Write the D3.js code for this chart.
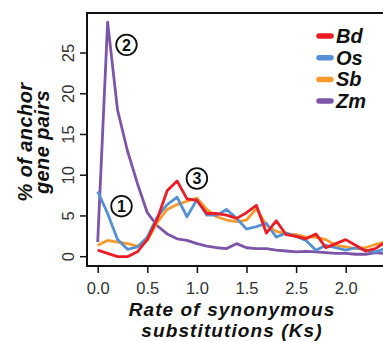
<!DOCTYPE html>
<html><head><meta charset="utf-8">
<script src="https://cdn.jsdelivr.net/npm/d3@7/dist/d3.min.js"></script>
<style>html,body{margin:0;padding:0;background:#fff;overflow:hidden}svg{display:block}</style>
</head><body>
<script>
const ks = [0.0,0.1,0.2,0.3,0.4,0.5,0.6,0.7,0.8,0.9,1.0,1.1,1.2,1.3,1.4,1.5,1.6,1.7,1.8,1.9,2.0,2.1,2.2,2.3,2.4,2.5,2.6,2.7,2.8,2.9];
const bd = [0.8,0.4,0.0,0.0,0.6,2.1,4.6,8.1,9.3,7.1,6.9,5.3,5.3,5.1,4.7,5.4,6.3,2.9,4.4,2.7,2.5,2.2,2.8,1.1,1.6,2.1,1.4,0.7,1.0,1.8];
const os = [8.0,5.3,2.1,0.9,1.2,2.4,4.9,6.4,7.3,4.9,7.0,5.1,5.1,5.8,4.7,3.4,3.7,4.1,2.4,2.9,2.5,2.0,0.8,1.4,1.1,0.8,1.1,0.8,0.6,1.0];
const sb = [1.4,2.0,1.8,1.6,1.3,2.0,4.2,5.8,6.4,6.8,7.2,5.8,4.9,4.5,4.3,4.5,5.9,3.9,3.1,2.8,2.7,2.4,2.4,2.1,1.4,1.2,1.0,1.1,1.5,1.8];
const zm = [1.8,28.8,18.0,13.0,9.0,5.4,3.8,2.8,2.2,2.0,1.6,1.3,1.1,1.0,1.6,1.1,1.0,1.0,0.8,0.7,0.6,0.65,0.6,0.5,0.4,0.4,0.3,0.3,0.5,0.4];
const seriesNames = ["Bd","Os","Sb","Zm"];
const seriesColors = ["#ec1c24","#5591d2","#f89b2c","#7d55a8"];
const xTicks = [0,0.5,1.0,1.5,2.0,2.5];
const xTickLabels = ["0.0","0.5","1.0","1.5","2.5","2.0"];
const yTicks = [0,5,10,15,20,25];
const marks = [{label:"1",x:0.24,y:6.2},{label:"2",x:0.29,y:26.0},{label:"3",x:1.0,y:9.6}];

const W=383,H=341;
const svg=d3.select("body").append("svg").attr("width",W).attr("height",H);
const x=d3.scaleLinear().domain([0,3]).range([97.7,395.3]);
const y=d3.scaleLinear().domain([0,25]).range([256.7,53]);
const font="'Liberation Sans', Arial, sans-serif";

// box
svg.append("path").attr("d","M400,13 H87 V266 H400").attr("fill","none").attr("stroke","#111").attr("stroke-width",2);

// axes
const xa=d3.axisBottom(x).tickValues(xTicks).tickSize(7).tickFormat((d,i)=>xTickLabels[i]);
const gx=svg.append("g").attr("transform","translate(0,266)").call(xa);
gx.select(".domain").remove();
gx.selectAll("line").attr("stroke","#111").attr("stroke-width",1.5);
gx.selectAll("text").attr("font-family",font).attr("font-size",16.5).attr("fill","#333").attr("dy","1.1em");

const ya=d3.axisLeft(y).tickValues(yTicks).tickSize(7);
const gy=svg.append("g").attr("transform","translate(87,0)").call(ya);
gy.select(".domain").remove();
gy.selectAll("line").attr("stroke","#111").attr("stroke-width",1.5);
gy.selectAll("text").attr("font-family",font).attr("font-size",16.5).attr("fill","#333")
  .attr("text-anchor","middle").attr("x",0).attr("dy",0)
  .attr("transform",d=>`translate(-13,${y(d)}) rotate(-90)`).attr("y",0);
gy.selectAll(".tick").attr("transform","translate(0,0)");
gy.selectAll(".tick line").attr("transform",d=>`translate(0,${y(d)})`);

// lines
const all=[bd,os,sb,zm];
const line=d3.line().x((d,i)=>x(ks[i])).y(d=>y(d));
[3,2,1,0].forEach(k=>{
  svg.append("path").datum(all[k]).attr("d",line).attr("fill","none")
    .attr("stroke",seriesColors[k]).attr("stroke-width",2.8).attr("stroke-linejoin","round");
});

// circled numbers
marks.forEach(m=>{
  const g=svg.append("g").attr("transform",`translate(${x(m.x)},${y(m.y)})`);
  g.append("circle").attr("r",10.3).attr("fill","#fff").attr("stroke","#111").attr("stroke-width",1.8);
  g.append("text").text(m.label).attr("text-anchor","middle").attr("dy","0.36em")
    .attr("font-family",font).attr("font-weight","bold").attr("font-size",16).attr("fill","#111");
});

// legend
seriesNames.forEach((n,i)=>{
  const yy=36+i*21.7;
  svg.append("line").attr("x1",319).attr("x2",331).attr("y1",yy).attr("y2",yy)
    .attr("stroke",seriesColors[i]).attr("stroke-width",5.5).attr("stroke-linecap","round");
  svg.append("text").text(n).attr("x",336).attr("y",yy+7).attr("font-family",font)
    .attr("font-weight","bold").attr("font-style","italic").attr("font-size",20).attr("fill","#111");
});

// axis titles
svg.append("text").attr("text-anchor","middle").attr("font-family",font).attr("font-weight","bold")
  .attr("font-style","italic").attr("font-size",19).attr("letter-spacing",1.1).attr("fill","#111")
  .attr("x",232).attr("y",315.5).text("Rate of synonymous");
svg.append("text").attr("text-anchor","middle").attr("font-family",font).attr("font-weight","bold")
  .attr("font-style","italic").attr("font-size",19).attr("letter-spacing",1.1).attr("fill","#111")
  .attr("x",232).attr("y",336.5).text("substitutions (Ks)");

const yt=svg.append("text").attr("text-anchor","middle").attr("font-family",font).attr("font-weight","bold")
  .attr("font-style","italic").attr("font-size",20).attr("letter-spacing",0.4).attr("fill","#111")
  .attr("transform","translate(0,142) rotate(-90)");
yt.append("tspan").attr("x",0).attr("y",32).text("% of anchor");
yt.append("tspan").attr("x",0).attr("y",49).text("gene pairs");
</script>
</body></html>
